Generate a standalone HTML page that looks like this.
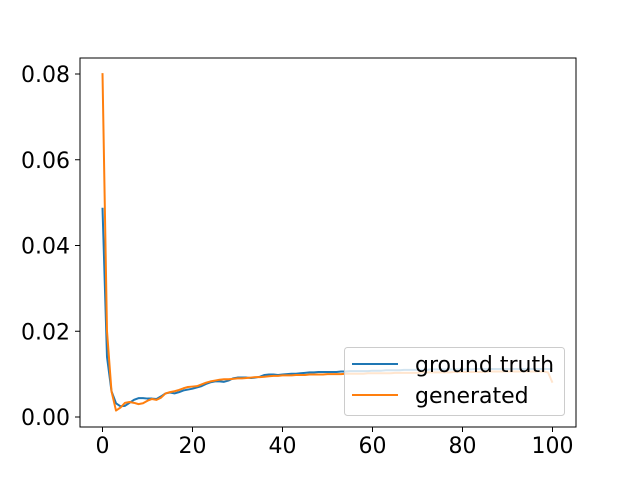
<!DOCTYPE html>
<html><head><meta charset="utf-8"><style>
body{margin:0;background:#fff;}
svg{font-family:"DejaVu Sans","Liberation Sans",sans-serif;}
</style></head><body>
<svg id="chart" width="640" height="480" viewBox="0 0 640 480">
<rect x="0" y="0" width="640" height="480" fill="#fff"/>
<g id="plot"></g>
<rect x="80" y="58" width="496" height="369" fill="none" stroke="#000" stroke-width="1"/>
<g id="xticks"></g><g id="yticks"></g>
<g>
<rect x="344.5" y="347.5" width="220" height="68" rx="3" fill="#fff" fill-opacity="0.8" stroke="#ccc"/>
<line x1="352" y1="364" x2="398" y2="364" stroke="#1f77b4" stroke-width="2"/>
<text x="415" y="372" font-size="22">ground truth</text>
<line x1="352" y1="395" x2="398" y2="395" stroke="#ff7f0e" stroke-width="2"/>
<text x="415" y="403" font-size="22">generated</text>
</g>
</svg>
<script>
const xTicks=[0,20,40,60,80,100];
const yTicks=[0.00,0.02,0.04,0.06,0.08];
const yTickLabels=["0.00","0.02","0.04","0.06","0.08"];
const groundTruth=[0.0488,0.0140,0.0060,0.0032,0.0025,0.0026,0.0033,0.0040,0.0044,0.0044,0.0043,0.0043,0.0042,0.0048,0.0055,0.0057,0.0055,0.0058,0.0062,0.0064,0.0066,0.0069,0.0072,0.0077,0.0081,0.0083,0.0083,0.0082,0.0085,0.0090,0.0092,0.0092,0.0092,0.0091,0.0092,0.0094,0.0098,0.0099,0.0099,0.0098,0.0099,0.0100,0.0101,0.0101,0.0102,0.0103,0.0104,0.0104,0.0105,0.0105,0.0105,0.0105,0.0105,0.0106,0.0106,0.0107,0.0107,0.0107,0.0107,0.0107,0.0108,0.0108,0.0108,0.0109,0.0109,0.0109,0.0109,0.0110,0.0110,0.0110,0.0110,0.0110,0.0110,0.0111,0.0111,0.0111,0.0111,0.0111,0.0111,0.0111,0.0111,0.0111,0.0111,0.0112,0.0112,0.0112,0.0112,0.0112,0.0112,0.0112,0.0112,0.0112,0.0112,0.0112,0.0112,0.0112,0.0112,0.0112,0.0112,0.0112,0.0112];
const generated=[0.0802,0.0200,0.0060,0.0015,0.0022,0.0033,0.0035,0.0033,0.0030,0.0032,0.0038,0.0042,0.0040,0.0045,0.0055,0.0058,0.0060,0.0063,0.0067,0.0070,0.0071,0.0072,0.0076,0.0080,0.0083,0.0085,0.0087,0.0088,0.0088,0.0089,0.0090,0.0090,0.0091,0.0092,0.0093,0.0093,0.0094,0.0095,0.0096,0.0096,0.0097,0.0097,0.0097,0.0098,0.0098,0.0098,0.0099,0.0099,0.0099,0.0099,0.0100,0.0100,0.0100,0.0100,0.0101,0.0101,0.0101,0.0101,0.0101,0.0102,0.0102,0.0102,0.0102,0.0102,0.0102,0.0103,0.0103,0.0103,0.0103,0.0103,0.0103,0.0104,0.0104,0.0104,0.0104,0.0104,0.0104,0.0104,0.0105,0.0105,0.0105,0.0105,0.0105,0.0105,0.0105,0.0105,0.0106,0.0106,0.0106,0.0106,0.0106,0.0106,0.0106,0.0106,0.0106,0.0106,0.0106,0.0106,0.0106,0.0104,0.0080];
const NS="http://www.w3.org/2000/svg";
const xScale=v=>102.5+v*4.5;
const yScale=v=>417-v*(343/0.08);
function mk(t,a){const e=document.createElementNS(NS,t);for(const k in a)e.setAttribute(k,a[k]);return e;}
const plot=document.getElementById('plot');
function series(arr,color,name){
  const d=arr.map((v,i)=>(i?'L':'M')+xScale(i).toFixed(2)+' '+yScale(v).toFixed(2)).join(' ');
  const p=mk('path',{d:d,fill:'none',stroke:color,'stroke-width':2,'stroke-linejoin':'round'});
  
  
  plot.appendChild(p);
}
series(groundTruth,'#1f77b4','ground-truth-line');
series(generated,'#ff7f0e','generated-line');
const xg=document.getElementById('xticks');
xTicks.forEach(v=>{
  const x=xScale(v);
  const l=mk('line',{x1:x,y1:427,x2:x,y2:432,stroke:'#000'});
  
  
  xg.appendChild(l);
  const t=mk('text',{x:x,y:453,'font-size':22,'text-anchor':'middle'});
  t.textContent=v;
  
  
  xg.appendChild(t);
});
const yg=document.getElementById('yticks');
yTicks.forEach((v,i)=>{
  const y=yScale(v);
  const l=mk('line',{x1:75,y1:y,x2:80,y2:y,stroke:'#000'});
  
  
  yg.appendChild(l);
  const t=mk('text',{x:70,y:y+8,'font-size':22,'text-anchor':'end'});
  t.textContent=yTickLabels[i];
  
  
  yg.appendChild(t);
});
</script>
</body></html>
